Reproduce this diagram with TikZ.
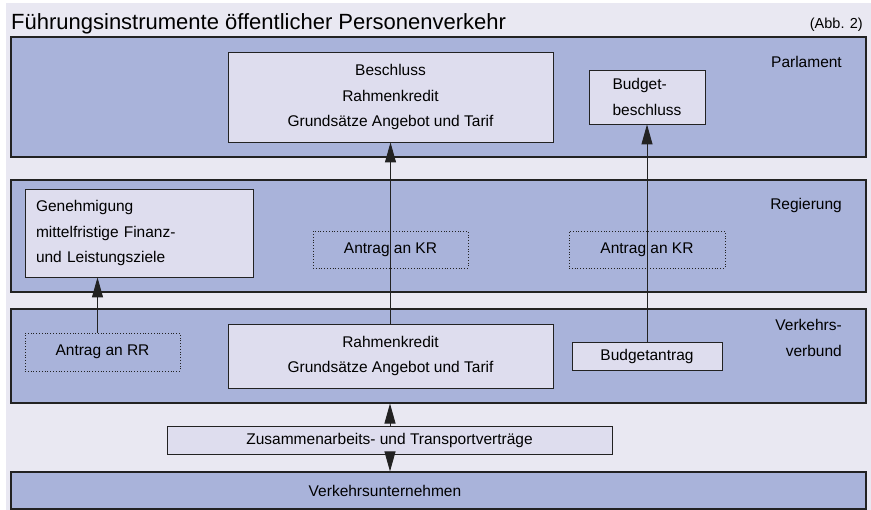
\documentclass[tikz,border=0pt]{standalone}
\usepackage{fontspec}
\setmainfont{Liberation Sans}
\usetikzlibrary{arrows.meta, positioning}

\definecolor{sfondo}{HTML}{E9E8F2}
\definecolor{banda}{HTML}{A9B3DA}
\definecolor{scatola}{HTML}{DEDDEE}
\definecolor{bordo}{HTML}{222222}

\begin{document}
\begin{tikzpicture}[
            x=1pt, y=-1pt,
            % Stile per le fasce dei livelli
            band/.style={draw=bordo, line width=1.1pt, fill=banda, minimum width=855pt, inner sep=0pt},
            % Stile per i riquadri pieni
            box/.style={draw=bordo, line width=0.9pt, fill=scatola, align=center, inner sep=0pt,
                        font=\fontsize{15.5}{25.7}\selectfont},
            % Stile per le richieste (bordo puntinato)
            request/.style={draw=bordo, dotted, line width=0.8pt, minimum width=155pt, minimum height=37pt,
                        inner sep=0pt, font=\fontsize{15.5}{18}\selectfont},
            % Stile per i nomi dei livelli
            level/.style={align=right, inner sep=0pt, font=\fontsize{15.5}{25.5}\selectfont},
            % Stile per le frecce
            arr/.style={line width=0.9pt, bordo, -{Triangle[length=20pt, width=11pt]}}
        ]

            \useasboundingbox (0,0) rectangle (871,510);
            \fill[sfondo] (6,3) rectangle (871,510);

            % --- Titolo ---
            \node[anchor=base west, inner sep=0pt, font=\fontsize{22}{24}\selectfont] (title) at (11,30)
                {Führungsinstrumente öffentlicher Personenverkehr};
            \node[anchor=base east, inner sep=0pt, font=\fontsize{14.5}{16}\selectfont] (abb) at (863,29) {(Abb. 2)};

            % --- Fasce ---
            \node[band, minimum height=120pt] (parl) at (438.5,97) {};
            \node[band, minimum height=112pt] (regier) at (438.5,236) {};
            \node[band, minimum height=94pt] (verbund) at (438.5,356) {};
            \node[band, minimum height=37pt] (untern) at (438.5,490.5) {};
            \node[font=\fontsize{15.5}{18}\selectfont] (unternlab) at (385,490.5) {Verkehrsunternehmen};

            \node[level, anchor=base east] (parllab) at (842,68) {Parlament};
            \node[level, anchor=base east] (regierlab) at (842,210) {Regierung};
            \node[level, anchor=east] (verbundlab) at (842,338) {Verkehrs-\\verbund};

            % --- Parlament ---
            \node[box, minimum width=325pt, minimum height=90pt] (beschluss) at (390.5,97)
                {Beschluss\\Rahmenkredit\\Grundsätze Angebot und Tarif};
            \node[box, minimum width=116pt, minimum height=54pt, align=left] (budgetb) at (647,97)
                {Budget-\\beschluss};

            % --- Regierung ---
            \node[box, minimum height=88pt, text width=206pt, inner xsep=11pt, align=left] (gen) at (139,233)
                {Genehmigung\\mittelfristige Finanz-\\und Leistungsziele};
            \node[request] (kr1) at (390.5,249.5) {Antrag an KR};
            \node[request, minimum width=156pt] (kr2) at (647,249.5) {Antrag an KR};

            % --- Verkehrsverbund ---
            \node[request, minimum height=38pt] (rr) at (102.5,352) {Antrag an RR};
            \node[box, minimum width=325pt, minimum height=64pt] (rahmen) at (390.5,356)
                {Rahmenkredit\\Grundsätze Angebot und Tarif};
            \node[box, minimum width=150pt, minimum height=28pt] (budgeta) at (647,356) {Budgetantrag};

            % --- Verträge ---
            \node[box, minimum width=445pt, minimum height=28pt] (zus) at (389.5,440)
                {Zusammenarbeits- und Transportverträge};

            % --- Frecce ---
            \draw[arr] ([xshift=-5pt]rr.north) -- ([xshift=-5pt]rr.north |- gen.south);
            \draw[arr] (rahmen.north) -- (beschluss.south);
            \draw[arr] (budgeta.north) -- (budgetb.south);
            \draw[arr] ([xshift=0.5pt]zus.north) -- ([xshift=0.5pt]zus.north |- verbund.south);
            \draw[arr] ([xshift=0.5pt]zus.south) -- ([xshift=0.5pt]zus.south |- untern.north);

        \end{tikzpicture}
\end{document}
